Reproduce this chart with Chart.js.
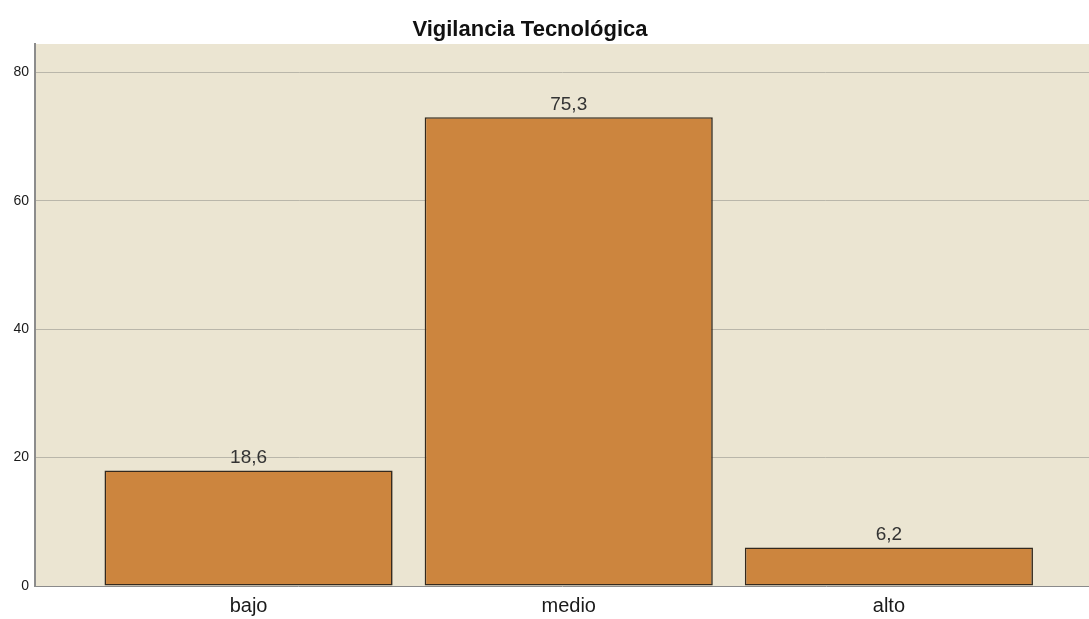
<!DOCTYPE html>
<html>
<head>
<meta charset="utf-8">
<script src="https://cdn.jsdelivr.net/npm/chart.js@4/dist/chart.umd.min.js"></script>
<style>
  html, body { margin: 0; padding: 0; background: #fff; }
  #wrap { width: 1089px; height: 619px; }
</style>
</head>
<body>
<div id="wrap"><canvas id="chart"></canvas></div>
<script>
// datos
const categorias = ['bajo', 'medio', 'alto'];
const frecuencias = [18, 73, 6];
const porcentajes = ['18,6', '75,3', '6,2'];
const ticksY = [0, 20, 40, 60, 80];

const fondo = 'rgb(235,229,210)';
const colorBarra = 'rgb(204,133,62)';
const fuente = '"Liberation Sans", Arial, sans-serif';

// fondo del area de trazado
const fondoPlugin = {
    id: 'fondo',
    beforeDraw: function (chart) {
        const a = chart.chartArea;
        const ctx = chart.ctx;
        ctx.save();
        ctx.fillStyle = fondo;
        ctx.fillRect(a.left, a.top, a.right - a.left, a.bottom - a.top);
        ctx.restore();
    }
};

// titulo y etiquetas encima de las barras
const textosPlugin = {
    id: 'textos',
    afterDatasetsDraw: function (chart) {
        const ctx = chart.ctx;
        ctx.save();
        ctx.fillStyle = '#111';
        ctx.font = 'bold 22px ' + fuente;
        ctx.textAlign = 'center';
        ctx.textBaseline = 'alphabetic';
        ctx.fillText('Vigilancia Tecnológica', 530, 36);

        ctx.fillStyle = '#333';
        ctx.font = '19px ' + fuente;
        const meta = chart.getDatasetMeta(0);
        meta.data.forEach(function (bar, i) {
            ctx.fillText(porcentajes[i], bar.x, bar.y - 7);
        });
        ctx.restore();
    }
};

const ctx = document.getElementById('chart').getContext('2d');
new Chart(ctx, {
    type: 'bar',
    data: {
        datasets: [{
            data: frecuencias.map(function (v, i) { return { x: i, y: v }; }),
            backgroundColor: colorBarra,
            borderColor: '#33291e',
            borderWidth: 1.6,
            borderSkipped: false,
            barPercentage: 0.9,
            categoryPercentage: 1
        }]
    },
    options: {
        animation: false,
        responsive: true,
        maintainAspectRatio: false,
        layout: { padding: { top: 44, left: 0, right: 0, bottom: 0 } },
        plugins: {
            legend: { display: false },
            tooltip: { enabled: false }
        },
        scales: {
            x: {
                type: 'linear',
                offset: false,
                min: -0.667,
                max: 2.625,
                afterBuildTicks: function (axis) {
                    axis.ticks = categorias.map(function (c, i) { return { value: i }; });
                },
                afterFit: function (axis) { axis.height = 33; },
                grid: { display: false, drawTicks: false, offset: false },
                border: { display: true, color: '#8a8a8a', width: 1 },
                ticks: {
                    padding: 8,
                    color: '#1a1a1a',
                    font: { family: fuente, size: 20 },
                    callback: function (v) { return categorias[v]; }
                }
            },
            y: {
                min: 0,
                max: 84.4,
                afterBuildTicks: function (axis) {
                    axis.ticks = ticksY.map(function (v) { return { value: v }; });
                },
                afterFit: function (axis) { axis.width = 35; },
                grid: {
                    color: function (c) { return c.tick && c.tick.value === 0 ? 'rgba(0,0,0,0)' : 'rgb(185,182,170)'; },
                    lineWidth: 1,
                    drawTicks: false
                },
                border: { display: true, color: '#8c8c8c', width: 2 },
                ticks: {
                    padding: 6,
                    color: '#1a1a1a',
                    font: { family: fuente, size: 14 }
                }
            }
        }
    },
    plugins: [fondoPlugin, textosPlugin]
});
</script>
</body>
</html>
